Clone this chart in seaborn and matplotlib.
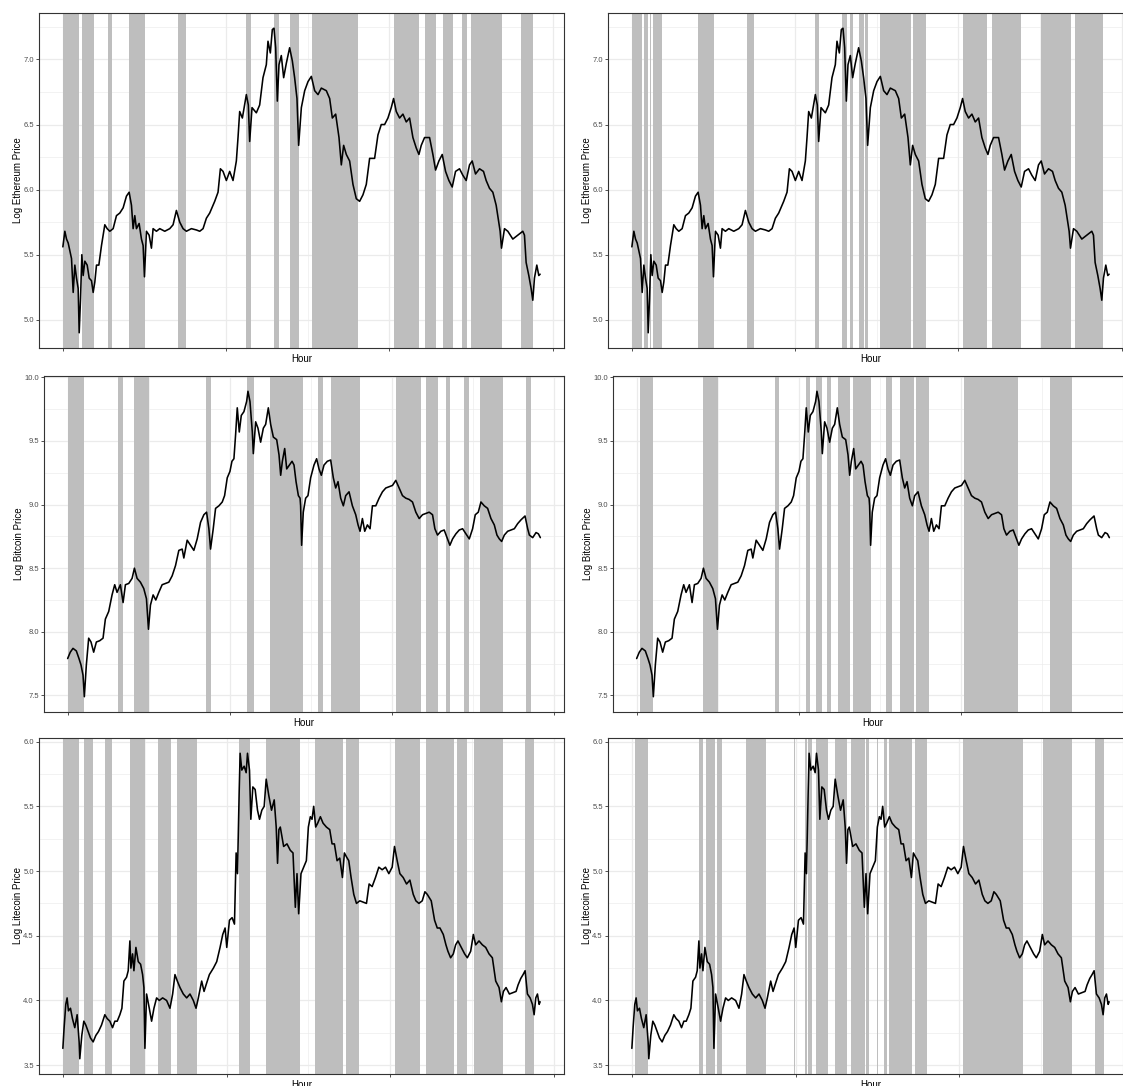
import matplotlib
matplotlib.use("Agg")
import matplotlib.pyplot as plt
import seaborn as sns
import pandas as pd
from matplotlib.ticker import MultipleLocator, FormatStrFormatter, NullFormatter

# ---- log price series (hour index) ----
eth_hour = [
    0, 61, 112, 163, 214, 265, 316, 367, 418, 469,
    500, 541, 581, 622, 673, 745, 806, 877, 928, 979,
    1030, 1102, 1183, 1285, 1357, 1438, 1540, 1642, 1744, 1846,
    1948, 2030, 2101, 2152, 2203, 2254, 2336, 2407, 2458, 2499,
    2560, 2642, 2713, 2764, 2866, 2968, 3121, 3274, 3376, 3478,
    3580, 3682, 3784, 3937, 4090, 4192, 4294, 4396, 4498, 4651,
    4753, 4825, 4906, 5008, 5110, 5212, 5314, 5365, 5416, 5498,
    5620, 5681, 5722, 5794, 5926, 6028, 6130, 6232, 6283, 6355,
    6416, 6467, 6518, 6569, 6620, 6691, 6763, 6844, 6946, 7028,
    7099, 7171, 7222,
    7305, 7407, 7509, 7611, 7713, 7815, 7917, 8070, 8172, 8254,
    8356, 8458, 8529, 8600, 8682, 8784, 8886, 8988, 9090, 9192,
    9294, 9396, 9549, 9651, 9753, 9855, 9957, 10059, 10130, 10212,
    10314, 10416, 10518, 10620, 10722, 10824, 10906, 10977, 11079, 11232,
    11334, 11416, 11518, 11620, 11722, 11824, 11926, 12028, 12150, 12252,
    12354, 12456, 12538, 12640, 12762, 12884, 12966, 13068, 13170, 13272,
    13333, 13394, 13435, 13527, 13629, 13782, 13935, 14088, 14139, 14190,
    14272, 14343, 14394, 14445, 14517, 14578, 14619,
]
eth_price = [
    5.56, 5.68, 5.62, 5.59, 5.53, 5.47, 5.21, 5.42, 5.32, 5.24,
    4.90, 5.16, 5.50, 5.34, 5.45, 5.42, 5.32, 5.30, 5.21, 5.29,
    5.42, 5.42, 5.57, 5.73, 5.70, 5.68, 5.70, 5.80, 5.82, 5.86,
    5.95, 5.98, 5.88, 5.70, 5.80, 5.70, 5.74, 5.62, 5.57, 5.33,
    5.68, 5.65, 5.55, 5.70, 5.68, 5.70, 5.68, 5.70, 5.73, 5.84,
    5.75, 5.70, 5.68, 5.70, 5.69, 5.68, 5.70, 5.78, 5.82, 5.91,
    5.98, 6.16, 6.14, 6.07, 6.14, 6.07, 6.22, 6.40, 6.60, 6.55,
    6.73, 6.65, 6.37, 6.63, 6.59, 6.65, 6.86, 6.96, 7.14, 7.05,
    7.23, 7.24, 7.09, 6.68, 6.96, 7.03, 6.86, 6.97, 7.09, 6.99,
    6.86, 6.70, 6.34,
    6.63, 6.76, 6.83, 6.87, 6.76, 6.73, 6.78, 6.76, 6.70, 6.55,
    6.58, 6.40, 6.19, 6.34, 6.27, 6.22, 6.04, 5.93, 5.91, 5.96,
    6.04, 6.24, 6.24, 6.42, 6.50, 6.50, 6.55, 6.63, 6.70, 6.60,
    6.55, 6.58, 6.52, 6.55, 6.40, 6.32, 6.27, 6.34, 6.40, 6.40,
    6.27, 6.15, 6.22, 6.27, 6.14, 6.07, 6.02, 6.14, 6.16, 6.11,
    6.07, 6.19, 6.22, 6.12, 6.16, 6.14, 6.07, 6.01, 5.98, 5.88,
    5.78, 5.68, 5.55, 5.70, 5.68, 5.62, 5.65, 5.68, 5.65, 5.44,
    5.34, 5.24, 5.15, 5.32, 5.42, 5.34, 5.35,
]

btc_hour = [
    0, 82, 165, 268, 350, 412, 474, 515, 577, 649,
    721, 803, 886, 989, 1092, 1164, 1267, 1370, 1452, 1524,
    1627, 1710, 1782, 1885, 1988, 2060, 2142, 2245, 2348, 2431,
    2493, 2554, 2637, 2719, 2812, 2915, 3018, 3121, 3224, 3327,
    3430, 3533, 3584, 3687, 3790, 3893, 3996, 4099, 4202, 4285,
    4357, 4408, 4491, 4563, 4666, 4769, 4841, 4923, 5006, 5068,
    5129, 5181, 5232, 5294, 5356, 5438, 5521, 5562, 5624, 5696,
    5727, 5799, 5871, 5953, 6036, 6108, 6190, 6262, 6345, 6448,
    6520, 6571, 6623, 6695, 6757, 6839, 6922, 6983, 7045, 7117,
    7169,
    7186, 7217, 7268, 7341, 7413, 7495, 7598, 7680, 7753, 7825,
    7907, 8010, 8113, 8195, 8268, 8340, 8422, 8504, 8577, 8680,
    8783, 8886, 8958, 9019, 9092, 9164, 9246, 9328, 9401, 9504,
    9607, 9710, 9813, 9916, 10019, 10122, 10225, 10328, 10431, 10534,
    10637, 10740, 10843, 10946, 11049, 11152, 11255, 11327, 11409, 11512,
    11615, 11718, 11790, 11873, 11976, 12079, 12182, 12285, 12388, 12491,
    12573, 12666, 12748, 12851, 12954, 13057, 13160, 13242, 13315, 13387,
    13469, 13572, 13675, 13778, 13881, 13984, 14108, 14190, 14242, 14345,
    14448, 14520, 14581,
]
btc_price = [
    7.79, 7.84, 7.87, 7.85, 7.79, 7.74, 7.66, 7.49, 7.74, 7.95,
    7.92, 7.84, 7.92, 7.93, 7.95, 8.10, 8.16, 8.29, 8.37, 8.31,
    8.37, 8.23, 8.37, 8.38, 8.42, 8.50, 8.42, 8.39, 8.34, 8.26,
    8.02, 8.21, 8.29, 8.25, 8.31, 8.37, 8.38, 8.39, 8.44, 8.52,
    8.64, 8.65, 8.58, 8.72, 8.68, 8.64, 8.73, 8.86, 8.92, 8.94,
    8.81, 8.65, 8.81, 8.97, 8.99, 9.02, 9.07, 9.21, 9.26, 9.34,
    9.36, 9.55, 9.76, 9.57, 9.70, 9.73, 9.81, 9.89, 9.81, 9.57,
    9.40, 9.65, 9.60, 9.49, 9.60, 9.63, 9.76, 9.63, 9.53, 9.51,
    9.39, 9.23, 9.34, 9.44, 9.28, 9.31, 9.34, 9.31, 9.18, 9.07,
    9.05,
    8.99, 8.68, 8.94, 9.05, 9.07, 9.21, 9.31, 9.36, 9.28, 9.23,
    9.31, 9.34, 9.35, 9.21, 9.13, 9.18, 9.05, 8.99, 9.07, 9.10,
    8.99, 8.92, 8.84, 8.79, 8.89, 8.79, 8.84, 8.81, 8.99, 8.99,
    9.05, 9.10, 9.13, 9.14, 9.15, 9.19, 9.13, 9.07, 9.05, 9.04,
    9.02, 8.94, 8.89, 8.92, 8.93, 8.94, 8.92, 8.81, 8.76, 8.79,
    8.80, 8.73, 8.68, 8.73, 8.77, 8.80, 8.81, 8.77, 8.73, 8.81,
    8.92, 8.94, 9.02, 8.99, 8.97, 8.89, 8.84, 8.76, 8.73, 8.71,
    8.76, 8.79, 8.80, 8.81, 8.85, 8.88, 8.91, 8.81, 8.76, 8.74,
    8.78, 8.77, 8.74,
]

ltc_hour = [
    0, 38, 89, 130, 170, 232, 293, 364, 436, 497,
    517, 578, 640, 701, 772, 844, 925, 1007, 1088, 1180,
    1282, 1354, 1435, 1517, 1588, 1660, 1741, 1803, 1864, 1946,
    1996, 2047, 2078, 2129, 2170, 2231, 2303, 2374, 2435, 2476,
    2506, 2557, 2639, 2710, 2782, 2863, 2945, 3047, 3169, 3271,
    3353, 3424, 3496, 3577, 3679, 3781, 3883, 3985, 4067, 4138,
    4240, 4312, 4373, 4475, 4597, 4699, 4801, 4883, 4955, 5006,
    5088, 5169, 5241, 5292, 5333, 5384, 5414, 5465, 5537, 5598,
    5639, 5700, 5741, 5802, 5873, 5945, 6006, 6077, 6149, 6210,
    6292, 6373, 6455, 6516, 6557, 6598,
    6641, 6743, 6845, 6947, 7029, 7100, 7151, 7202, 7273, 7355,
    7437, 7498, 7559, 7610, 7661, 7722, 7783, 7865, 7947, 8049,
    8151, 8222, 8293, 8375, 8457, 8538, 8599, 8661, 8732, 8803,
    8885, 8967, 9069, 9171, 9273, 9354, 9446, 9548, 9650, 9752,
    9854, 9956, 10058, 10129, 10211, 10293, 10395, 10497, 10599, 10701,
    10782, 10874, 10976, 11058, 11129, 11251, 11353, 11435, 11517, 11619,
    11700, 11761, 11843, 11925, 11996, 12067, 12169, 12271, 12353, 12455,
    12537, 12608, 12710, 12812, 12914, 13016, 13118, 13220, 13322, 13393,
    13455, 13536, 13638, 13740, 13842, 13903, 13985, 14056, 14118, 14189,
    14271, 14342, 14393, 14444, 14495, 14546, 14577,
]
ltc_price = [
    3.63, 3.79, 3.97, 4.02, 3.92, 3.94, 3.86, 3.79, 3.89, 3.68,
    3.55, 3.73, 3.84, 3.81, 3.76, 3.71, 3.68, 3.73, 3.76, 3.81,
    3.89, 3.86, 3.84, 3.79, 3.84, 3.84, 3.89, 3.94, 4.15, 4.18,
    4.23, 4.46, 4.25, 4.36, 4.23, 4.41, 4.30, 4.28, 4.20, 4.10,
    3.63, 4.05, 3.94, 3.84, 3.94, 4.02, 4.00, 4.02, 4.00, 3.94,
    4.05, 4.20, 4.15, 4.10, 4.05, 4.02, 4.05, 4.00, 3.94, 4.02,
    4.15, 4.07, 4.12, 4.20, 4.25, 4.30, 4.41, 4.51, 4.56, 4.41,
    4.62, 4.64, 4.59, 5.14, 4.98, 5.60, 5.91, 5.78, 5.81, 5.76,
    5.91, 5.78, 5.40, 5.65, 5.63, 5.47, 5.40, 5.47, 5.50, 5.71,
    5.58, 5.47, 5.55, 5.34, 5.06, 5.32,
    5.34, 5.19, 5.21, 5.16, 5.14, 4.72, 4.98, 4.67, 4.98, 5.03,
    5.08, 5.34, 5.42, 5.40, 5.50, 5.34, 5.37, 5.42, 5.37, 5.34,
    5.32, 5.21, 5.21, 5.08, 5.10, 4.95, 5.14, 5.11, 5.08, 4.95,
    4.82, 4.75, 4.77, 4.76, 4.75, 4.90, 4.88, 4.95, 5.03, 5.01,
    5.03, 4.98, 5.03, 5.19, 5.08, 4.98, 4.95, 4.90, 4.93, 4.82,
    4.77, 4.75, 4.77, 4.84, 4.82, 4.77, 4.62, 4.56, 4.56, 4.51,
    4.43, 4.38, 4.33, 4.36, 4.43, 4.46, 4.41, 4.36, 4.33, 4.38,
    4.51, 4.43, 4.46, 4.43, 4.41, 4.36, 4.33, 4.15, 4.10, 3.99,
    4.07, 4.10, 4.05, 4.06, 4.07, 4.12, 4.17, 4.20, 4.23, 4.05,
    4.02, 3.97, 3.89, 4.02, 4.05, 3.97, 3.99,
]

# ---- shaded regimes (start / end hour), left column = model A, right = model B ----
eth_a_start = [0, 578, 1374, 2020, 3519, 5624, 6457, 6947, 7620, 10130, 11079, 11630, 12212, 12503, 14033]
eth_a_end = [508, 952, 1503, 2510, 3764, 5753, 6610, 7222, 9028, 10895, 11416, 11936, 12365, 13452, 14400]
eth_b_start = [0, 374, 552, 650, 2026, 3513, 5616, 6442, 6693, 6954, 7141, 7609, 8620, 10128, 11042, 12544, 13582]
eth_b_end = [310, 497, 595, 926, 2520, 3755, 5739, 6595, 6770, 7107, 7230, 8565, 9019, 10885, 11931, 13463, 14419]

btc_a_start = [0, 1560, 2057, 4279, 5542, 6228, 7708, 8109, 10121, 11053, 11665, 12221, 12730, 14137]
btc_a_end = [519, 1711, 2518, 4408, 5744, 7247, 7877, 9008, 10899, 11418, 11788, 12375, 13426, 14292]
btc_b_start = [111, 2048, 4274, 5227, 5526, 5882, 6211, 6676, 7684, 8129, 8625, 10108, 12753]
btc_b_end = [509, 2513, 4397, 5338, 5723, 6002, 6587, 7231, 7885, 8560, 9024, 11770, 13431]

ltc_a_start = [0, 646, 1280, 2052, 2906, 3494, 5392, 6212, 7688, 8662, 10137, 11081, 12030, 12552, 14109]
ltc_a_end = [505, 915, 1488, 2508, 3295, 4103, 5720, 7254, 8567, 9036, 10896, 11935, 12334, 13440, 14391]
ltc_b_start = [98, 2036, 2257, 2586, 3478, 4966, 5290, 5392, 5610, 6195, 6688, 7151, 7495, 7716, 7848,
               8651, 10128, 12547, 14136]
ltc_b_end = [497, 2168, 2530, 2742, 4094, 4997, 5346, 5512, 5984, 6569, 7108, 7240, 7520, 7793, 8565,
             9016, 11931, 13430, 14421]

sns.set_theme(style="white")
plt.rcParams['font.family'] = ['Liberation Sans', 'DejaVu Sans']

W, H = 1123, 1086
fig = plt.figure(figsize=(W / 100, H / 100), dpi=100)

def px_rect(l, t, r, b):
    return [l / W, 1 - b / H, (r - l) / W, (b - t) / H]

rows = [
    ("Log Ethereum Price", eth_hour, eth_price, (eth_a_start, eth_a_end), (eth_b_start, eth_b_end),
     (39, 13, 564, 348), (608, 13, 1133, 348)),
    ("Log Bitcoin Price", btc_hour, btc_price, (btc_a_start, btc_a_end), (btc_b_start, btc_b_end),
     (44, 376, 564, 712), (613, 376, 1133, 712)),
    ("Log Litecoin Price", ltc_hour, ltc_price, (ltc_a_start, ltc_a_end), (ltc_b_start, ltc_b_end),
     (39, 738, 564, 1074), (608, 738, 1133, 1074)),
]

for ylab, hours, price, bands_a, bands_b, rect_a, rect_b in rows:
    df = pd.DataFrame({"Hour": hours, "Price": price})
    for bands, rect in ((bands_a, rect_a), (bands_b, rect_b)):
        ax = fig.add_axes(px_rect(*rect))
        ax.set_facecolor("white")
        for s, e in zip(*bands):
            ax.axvspan(s, e, color="#BEBEBE", lw=0, zorder=1)
        sns.lineplot(data=df, x="Hour", y="Price", ax=ax, color="black", lw=1.15,
                     estimator=None, sort=False, zorder=3)
        ax.margins(x=0.05, y=0.05)
        ax.set_axisbelow(True)
        ax.xaxis.set_major_locator(MultipleLocator(5000))
        ax.xaxis.set_minor_locator(MultipleLocator(2500))
        ax.yaxis.set_major_locator(MultipleLocator(0.5))
        ax.yaxis.set_minor_locator(MultipleLocator(0.25))
        ax.xaxis.set_major_formatter(NullFormatter())
        ax.yaxis.set_major_formatter(FormatStrFormatter('%.1f'))
        ax.grid(which='major', color='#EBEBEB', lw=0.9)
        ax.grid(which='minor', color='#EBEBEB', lw=0.45)
        ax.tick_params(which='major', bottom=True, left=True, length=2.2, width=0.6,
                       color='#333333', labelsize=5.5, labelcolor='#4D4D4D', pad=1.5)
        ax.tick_params(which='minor', length=0)
        for sp in ax.spines.values():
            sp.set_color('#333333')
            sp.set_linewidth(0.8)
        ax.set_xlabel("Hour", fontsize=7, labelpad=0.5, color='black')
        ax.set_ylabel(ylab, fontsize=7, labelpad=0.5, color='black')

fig.savefig("out.png", dpi=100)
